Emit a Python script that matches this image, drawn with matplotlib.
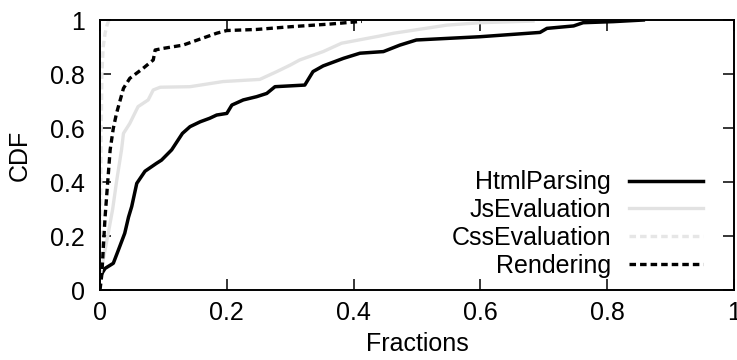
import matplotlib
matplotlib.use("Agg")
import matplotlib.pyplot as plt

# values
html_x = [0, 0.008, 0.021, 0.029, 0.039, 0.045, 0.05, 0.058, 0.071, 0.089, 0.097, 0.113, 0.13, 0.142,
          0.158, 0.173, 0.184, 0.20, 0.208, 0.226, 0.247, 0.263, 0.276, 0.323, 0.336, 0.352, 0.384,
          0.41, 0.447, 0.473, 0.499, 0.599, 0.694, 0.705, 0.747, 0.762, 0.81, 0.857]
html_y = [0.05, 0.08, 0.099, 0.148, 0.21, 0.27, 0.309, 0.395, 0.44, 0.469, 0.481, 0.519, 0.58, 0.605,
          0.623, 0.636, 0.648, 0.654, 0.685, 0.704, 0.716, 0.728, 0.753, 0.759, 0.809, 0.83, 0.858,
          0.877, 0.883, 0.907, 0.926, 0.938, 0.954, 0.969, 0.978, 0.99, 0.994, 1.0]

js_x = [0, 0.004, 0.013, 0.02, 0.026, 0.034, 0.037, 0.047, 0.06, 0.076, 0.084, 0.095, 0.142, 0.194,
        0.252, 0.279, 0.30, 0.315, 0.352, 0.381, 0.442, 0.463, 0.547, 0.60, 0.683]
js_y = [0.05, 0.1, 0.21, 0.3, 0.4, 0.52, 0.58, 0.617, 0.679, 0.704, 0.741, 0.751, 0.753, 0.772,
        0.78, 0.809, 0.833, 0.852, 0.883, 0.914, 0.941, 0.951, 0.981, 0.99, 0.996]

css_x = [0, 0.001, 0.002, 0.003, 0.005, 0.008, 0.011, 0.014]
css_y = [0, 0.3, 0.6, 0.8, 0.9, 0.95, 0.98, 1.0]

rend_x = [0, 0.003, 0.005, 0.008, 0.012, 0.016, 0.021, 0.026, 0.037, 0.047, 0.068, 0.084, 0.087,
          0.1, 0.131, 0.184, 0.2, 0.247, 0.30, 0.363, 0.413]
rend_y = [0.0, 0.06, 0.148, 0.27, 0.395, 0.519, 0.599, 0.654, 0.747, 0.784, 0.821, 0.852, 0.889,
          0.895, 0.907, 0.951, 0.961, 0.965, 0.975, 0.985, 0.995]

ticks = [0, 0.2, 0.4, 0.6, 0.8, 1]
tick_labels = ["0", "0.2", "0.4", "0.6", "0.8", "1"]

plt.rcParams['font.family'] = ['Liberation Sans', 'DejaVu Sans']
plt.rcParams['font.size'] = 18
plt.rcParams['lines.scale_dashes'] = False

fig = plt.figure(figsize=(7.37, 3.6), dpi=100)
ax = fig.add_axes([100 / 737, 70 / 360, 634 / 737, 270 / 360])

ax.plot(html_x, html_y, color='black', lw=2.5, label='HtmlParsing')
ax.plot(js_x, js_y, color='#e2e2e2', lw=2.4, label='JsEvaluation')
ax.plot(css_x, css_y, color='#e6e6e6', lw=2.4, dashes=(4.7, 2.9), label='CssEvaluation')
ax.plot(rend_x, rend_y, color='black', lw=2.4, dashes=(4.7, 2.9), label='Rendering')

ax.set_xlim(0, 1)
ax.set_ylim(0, 1)
ax.set_xticks(ticks)
ax.set_xticklabels(tick_labels)
ax.set_yticks(ticks)
ax.set_yticklabels(tick_labels)
ax.tick_params(direction='in', length=8, width=1.1, top=True, right=True)
ax.tick_params(axis='x', pad=8)
ax.tick_params(axis='y', pad=11)
for s in ax.spines.values():
    s.set_linewidth(1.4)
ax.set_xlabel('Fractions', labelpad=5)
ax.set_ylabel('CDF', labelpad=13)

leg = ax.legend(loc='lower right', bbox_to_anchor=(0.951, 0.046), frameon=False, markerfirst=False,
                handlelength=2.95, handletextpad=0.72, labelspacing=0.15, borderpad=0,
                borderaxespad=0)

fig.savefig('out.png', dpi=100)
